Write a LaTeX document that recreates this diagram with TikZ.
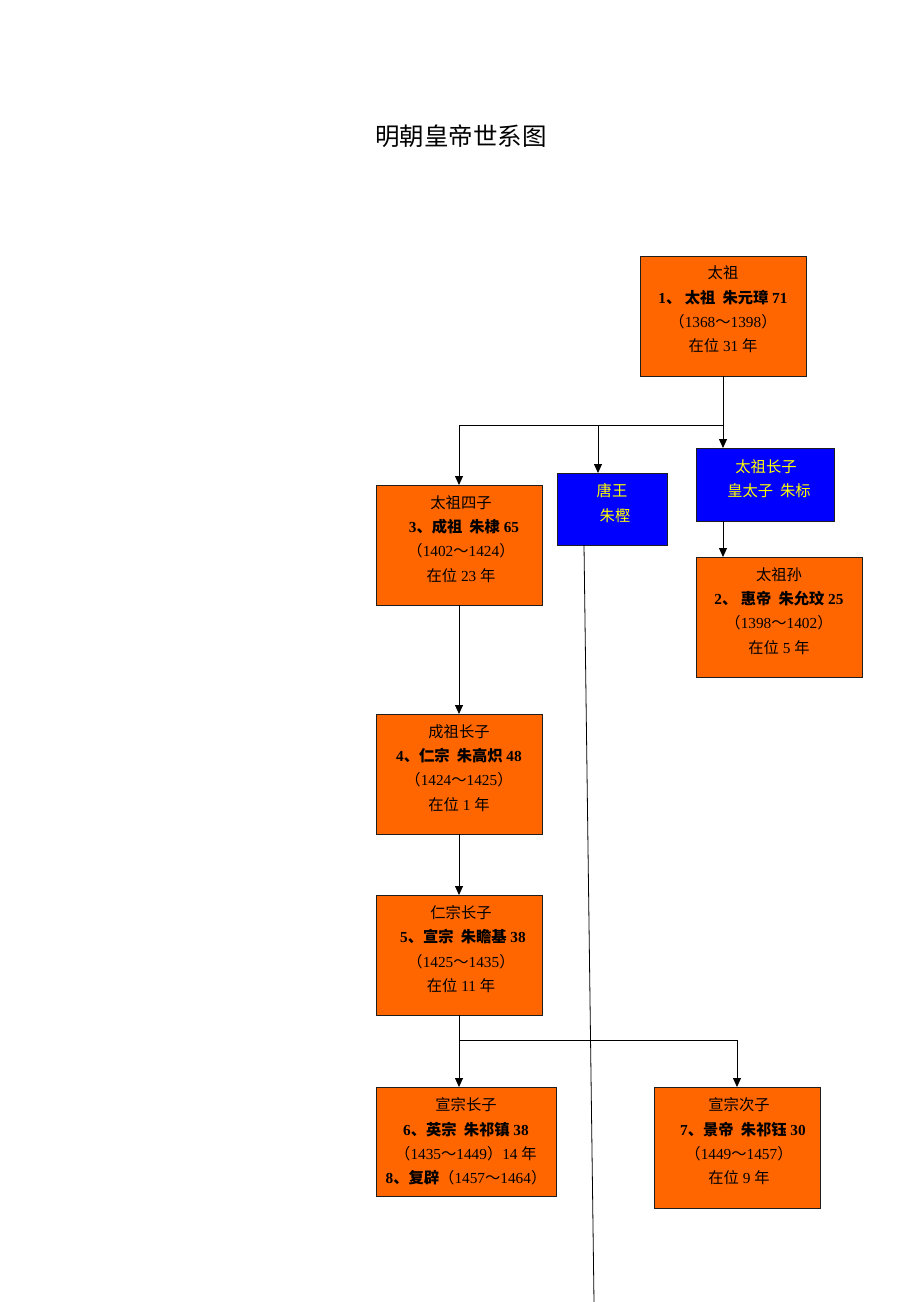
\documentclass[tikz,border=0pt]{standalone}
\usepackage{fontspec}
\setmainfont{Liberation Serif}
\newfontfamily\cjk{Noto Sans CJK SC}
\newcommand\zh[1]{{\cjk #1}}
\usetikzlibrary{arrows.meta}
\definecolor{orng}{RGB}{255,102,0}
\definecolor{blu}{RGB}{0,0,255}
\definecolor{yel}{RGB}{255,255,0}
\definecolor{edge}{RGB}{30,30,30}
\begin{document}
\begin{tikzpicture}[x=1pt,y=-1pt,
  obox/.style={draw=edge, fill=orng, line width=0.9pt, inner sep=0pt, outer sep=0pt},
  bbox/.style={draw=edge, fill=blu, line width=0.9pt, inner sep=0pt, outer sep=0pt},
  otxt/.style={align=center, text=black, font=\fontsize{15.3}{24.3}\selectfont, inner sep=0pt},
  btxt/.style={align=center, text=yel, font=\fontsize{15.3}{24.3}\selectfont, inner sep=0pt},
  link/.style={draw=black, line width=0.8pt},
  arr/.style={link, -{Triangle[length=9pt,width=8pt]}}
]
\useasboundingbox (0,0) rectangle (920,1302);
\fill[white] (0,0) rectangle (920,1302);

\node[inner sep=0pt, font=\fontsize{24.5}{24.5}\selectfont] (title) at (461,136) {\zh{明朝皇帝世系图}};

% boxes
\node[obox, minimum width=166pt, minimum height=120pt] (b1) at (723,316) {};
\node[obox, minimum width=166pt, minimum height=120pt] (b3) at (459,545) {};
\node[bbox, minimum width=110pt, minimum height=72pt] (tw) at (612,509) {};
\node[bbox, minimum width=138pt, minimum height=73pt] (zb) at (765,484.5) {};
\node[obox, minimum width=166pt, minimum height=120pt] (b2) at (779,617) {};
\node[obox, minimum width=166pt, minimum height=120pt] (b4) at (459,774) {};
\node[obox, minimum width=166pt, minimum height=120pt] (b5) at (459,955) {};
\node[obox, minimum width=180pt, minimum height=109pt] (b6) at (466,1141.5) {};
\node[obox, minimum width=166pt, minimum height=121pt] (b7) at (737,1147.5) {};

% texts
\node[otxt] (t1) at (723,309.5) {\zh{太祖}\\ \textbf{1\zh{、 太祖\ \ 朱元璋} 71}\\ \zh{（}1368\zh{～}1398\zh{）}\\ \zh{在位} 31 \zh{年}};
\node[otxt] (t3) at (461,539) {\zh{太祖四子}\\ \hspace*{6pt}\textbf{3\zh{、成祖\ \ 朱棣} 65}\\ \zh{（}1402\zh{～}1424\zh{）}\\ \zh{在位} 23 \zh{年}};
\node[btxt] (ttw) at (612,503) {\zh{唐王}\\ \hspace*{6pt}\zh{朱樫}};
\node[btxt] (tzb) at (766,479) {\zh{太祖长子}\\ \hspace*{6pt}\zh{皇太子\ \ 朱标}};
\node[otxt] (t2) at (779,611) {\zh{太祖孙}\\ \textbf{2\zh{、 惠帝\ \ 朱允玟} 25}\\ \zh{（}1398\zh{～}1402\zh{）}\\ \zh{在位} 5 \zh{年}};
\node[otxt] (t4) at (459,768) {\zh{成祖长子}\\ \textbf{4\zh{、仁宗\ \ 朱高炽} 48}\\ \zh{（}1424\zh{～}1425\zh{）}\\ \zh{在位} 1 \zh{年}};
\node[otxt] (t5) at (461,949) {\zh{仁宗长子}\\ \hspace*{4pt}\textbf{5\zh{、宣宗\ \ 朱瞻基} 38}\\ \zh{（}1425\zh{～}1435\zh{）}\\ \zh{在位} 11 \zh{年}};
\node[otxt] (t6) at (466,1141.5) {\zh{宣宗长子}\\ \textbf{6\zh{、英宗\ \ 朱祁镇} 38}\\ \zh{（}1435\zh{～}1449\zh{）}14 \zh{年}\\ \textbf{8\zh{、复辟}}\zh{（}1457\zh{～}1464\zh{）}};
\node[otxt] (t7) at (739,1141.5) {\zh{宣宗次子}\\ \hspace*{8pt}\textbf{7\zh{、景帝\ \ 朱祁钰} 30}\\ \zh{（}1449\zh{～}1457\zh{）}\\ \zh{在位} 9 \zh{年}};

% junctions
\coordinate (j1) at (723,425);
\coordinate (j2) at (459,1040);
\coordinate (tend) at (594,1302);

% connectors
\draw[link] (b1.south) -- (j1);
\draw[arr] (j1) -| (b3.north);
\draw[arr] (j1) -| ([xshift=41pt]tw.north west);
\draw[arr] (j1) -- (j1 |- zb.north);
\draw[arr] (j1 |- zb.south) -- (j1 |- b2.north);
\draw[link] ([xshift=27pt]tw.south west) -- (tend);
\draw[arr] (b3.south) -- (b4.north);
\draw[arr] (b4.south) -- (b5.north);
\draw[link] (b5.south) -- (j2);
\draw[arr] (j2) -| ([xshift=83pt]b6.north west);
\draw[arr] (j2) -| (b7.north);
\end{tikzpicture}
\end{document}
